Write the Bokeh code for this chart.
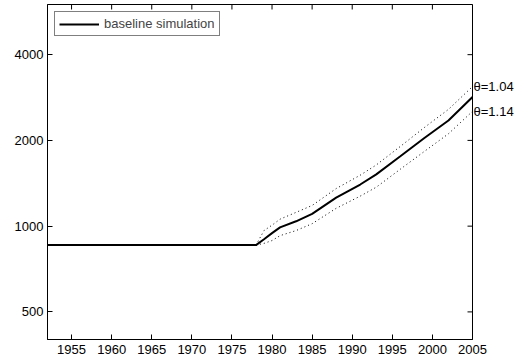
from bokeh.plotting import figure
from bokeh.models import (FixedTicker, LogAxis, PrintfTickFormatter,
                          Legend, LegendItem)
from bokeh.embed import file_html
from bokeh.resources import INLINE

# ---- data ----
years = [1952, 1978, 1979, 1980, 1981, 1983, 1985, 1988, 1991, 1993, 1996, 1999, 2002, 2005]
baseline = [858, 858, 900, 945, 990, 1040, 1105, 1260, 1400, 1520, 1760, 2040, 2350, 2840]

band_years = [1978, 1979, 1980, 1981, 1983, 1985, 1988, 1991, 1993, 1996, 1999, 2002, 2005]
theta_104 = [858, 965, 1008, 1058, 1118, 1182, 1355, 1510, 1640, 1905, 2220, 2570, 3090]
theta_114 = [858, 870, 890, 926, 965, 1020, 1155, 1275, 1370, 1585, 1830, 2110, 2530]

x_ticks = [1955, 1960, 1965, 1970, 1975, 1980, 1985, 1990, 1995, 2000, 2005]
y_ticks = [500, 1000, 2000, 4000]
x_lim = (1952, 2005)
y_lim = (400, 6000)
legend_label = "baseline simulation"
label_upper = "θ=1.04"
label_lower = "θ=1.14"

FONT = "Liberation Sans"
FS = "13px"

p = figure(width=520, height=363, output_backend="svg", toolbar_location=None,
           x_range=x_lim, y_range=y_lim, y_axis_type="log",
           min_border_left=47, min_border_right=48, min_border_top=4, min_border_bottom=24)
p.xgrid.visible = False
p.ygrid.visible = False
p.outline_line_color = "black"
p.outline_line_width = 1
p.background_fill_color = "white"
p.border_fill_color = "white"

for ax, standoff in ((p.xaxis[0], 5), (p.yaxis[0], 4)):
    ax.axis_line_color = "black"
    ax.major_tick_in = 5
    ax.major_tick_out = 0
    ax.minor_tick_line_color = None
    ax.major_tick_line_color = "black"
    ax.major_label_text_font = FONT
    ax.major_label_text_font_size = FS
    ax.major_label_text_color = "black"
    ax.major_label_standoff = standoff

p.xaxis.ticker = FixedTicker(ticks=x_ticks)
p.yaxis.ticker = FixedTicker(ticks=y_ticks)
p.yaxis.formatter = PrintfTickFormatter(format="%d")

# inward tick marks on the top and right frame edges (half of each dash is clipped by the frame)
p.scatter(x_ticks, [y_lim[1]] * len(x_ticks), marker="dash", angle=1.5708, size=10,
          line_color="black", line_width=1)
p.scatter([x_lim[1]] * len(y_ticks), y_ticks, marker="dash", size=10,
          line_color="black", line_width=1)

r_base = p.line(years, baseline, line_color="black", line_width=2)
p.line(band_years, theta_104, line_color="black", line_width=1, line_dash="1 3")
p.line(band_years, theta_114, line_color="black", line_width=1, line_dash="1 3")

# theta labels at the end of the dotted curves, as labels of a right-hand axis
end_vals = [theta_104[-1], theta_114[-1]]
right = LogAxis(ticker=FixedTicker(ticks=end_vals),
                major_label_overrides={end_vals[0]: label_upper, end_vals[1]: label_lower})
right.axis_line_color = None
right.major_tick_line_color = None
right.minor_tick_line_color = None
right.major_tick_in = 0
right.major_tick_out = 0
right.major_label_standoff = 1
right.major_label_text_font = FONT
right.major_label_text_font_size = FS
right.major_label_text_color = "black"
right.major_label_text_baseline = "alphabetic"
p.add_layout(right, "right")

legend = Legend(items=[LegendItem(label=legend_label, renderers=[r_base])],
                location="top_left", margin=7, padding=4, spacing=0,
                glyph_width=40, glyph_height=12, label_height=12, label_standoff=5,
                label_text_font=FONT, label_text_font_size=FS,
                border_line_color="black", border_line_width=1, background_fill_alpha=1)
p.add_layout(legend)

open("out.html", "w").write(file_html(p, INLINE))
